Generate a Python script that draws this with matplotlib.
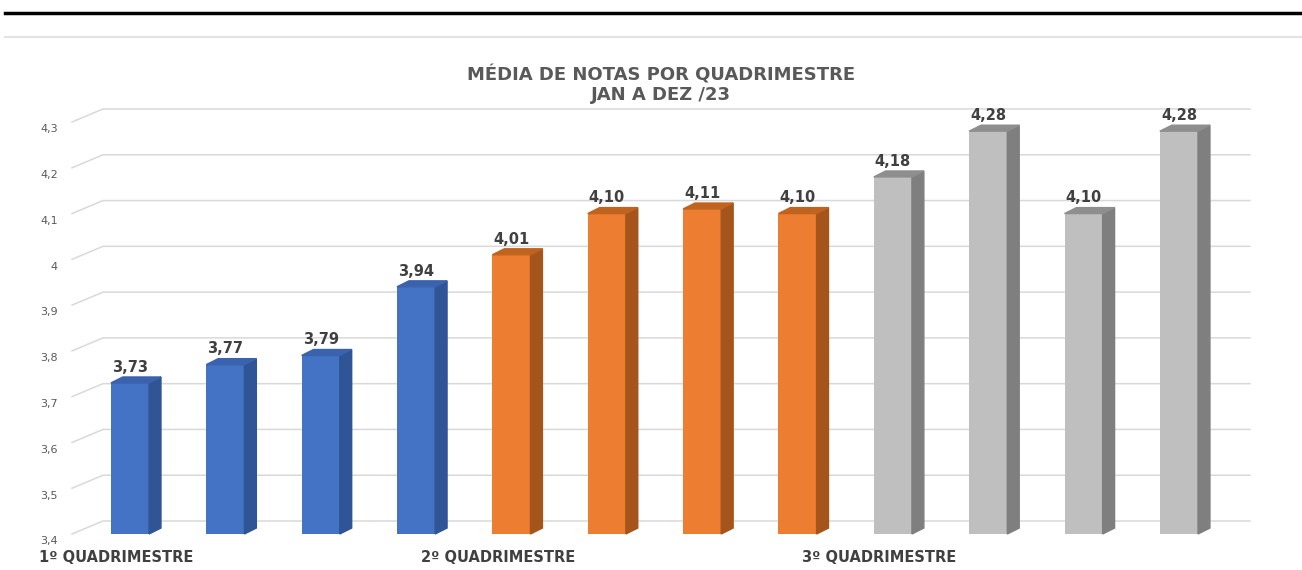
import matplotlib.pyplot as plt
from matplotlib.patches import Polygon
from matplotlib.lines import Line2D

titulo = "MÉDIA DE NOTAS POR QUADRIMESTRE\nJAN A DEZ /23"
notas = [3.73, 3.77, 3.79, 3.94, 4.01, 4.10, 4.11, 4.10, 4.18, 4.28, 4.10, 4.28]
grupos = ["1º QUADRIMESTRE", "2º QUADRIMESTRE", "3º QUADRIMESTRE"]
inicio_grupo = [0, 4, 8]
yticks = [3.4, 3.5, 3.6, 3.7, 3.8, 3.9, 4.0, 4.1, 4.2, 4.3]
ylabels = ["3,4", "3,5", "3,6", "3,7", "3,8", "3,9", "4", "4,1", "4,2", "4,3"]

# cores: frente, lado, topo
cores = [("#4472C4", "#2F5597", "#3A62AD"),
         ("#ED7D31", "#A5541C", "#C0631F"),
         ("#BFBFBF", "#7F7F7F", "#8E8E8E")]

fig = plt.figure(figsize=(13.02, 5.7), dpi=100)
ax = fig.add_axes([72/1302, 36/570, 1147/1302, 412/570])
ax.set_xlim(-0.608, 11.42)
ax.set_ylim(3.4, 4.3)
ax.axis("off")

base = 3.4
larg = 0.4
# profundidade das barras e da parede (em unidades de dados)
bdx, bdy = 0.125, 0.013
gdx, gdy = 0.325, 0.0284
x0, x1 = -0.608, 11.42

# grade em "3D"
for v, lab in zip(yticks, ylabels):
    ax.add_line(Line2D([x0, x0 + gdx, x1 + gdx], [v, v + gdy, v + gdy],
                       color="#d9d9d9", lw=1.1, clip_on=False, zorder=1))
    ax.text(x0 - 0.15, v - 0.016, lab, ha="right", va="center",
            fontsize=8, color="#595959")

for i, v in enumerate(notas):
    frente, lado, topo = cores[i // 4]
    xl, xr = i - larg/2, i + larg/2
    ax.bar(i, v - base, bottom=base, width=larg, color=frente, zorder=3)
    ax.add_patch(Polygon([(xr, base), (xr + bdx, base + bdy), (xr + bdx, v + bdy), (xr, v)],
                         closed=True, color=lado, zorder=3, clip_on=False))
    ax.add_patch(Polygon([(xl, v), (xr, v), (xr + bdx, v + bdy), (xl + bdx, v + bdy)],
                         closed=True, color=topo, zorder=3, clip_on=False))
    ax.text(i, v + 0.018, f"{v:.2f}".replace(".", ","), ha="center", va="bottom",
            fontsize=10.5, fontweight="bold", color="#404040", clip_on=False)

for g, s in zip(grupos, inicio_grupo):
    ax.text(s - 0.95, 3.4 - 0.052, g, ha="left", va="center", fontsize=10.5,
            fontweight="bold", color="#404040")

fig.text(0.508, 0.852, titulo, ha="center", va="center", fontsize=13,
         fontweight="bold", color="#595959", linespacing=1.1)

# linhas do topo
fig.add_artist(Line2D([5/1302, 1], [1 - 13/570, 1 - 13/570], color="black", lw=2.5))
fig.add_artist(Line2D([5/1302, 1], [1 - 37/570, 1 - 37/570], color="#e3e3e3", lw=1.5))

fig.savefig("out.png", dpi=100)
